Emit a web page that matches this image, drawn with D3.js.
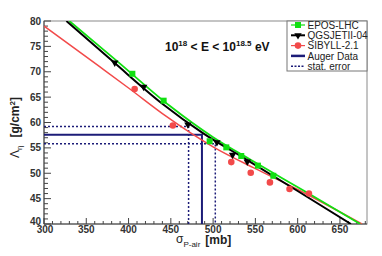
<!DOCTYPE html>
<html>
<head>
<meta charset="utf-8">
<script src="https://cdn.jsdelivr.net/npm/d3@7"></script>
<style>
  body { margin: 0; background: #fff; }
  svg { display: block; font-family: "Liberation Sans", Arial, sans-serif; }
</style>
</head>
<body>
<script>
// Fit curves (sigma p-air [mb], Lambda_eta [g/cm2])
const eposCurve = [[330, 80], [385, 72.3], [448.6, 63.3], [500, 57.1], [549, 52.2], [610, 46.3], [674, 40]];
const qgsCurve = [[326.5, 80], [381.6, 72.0], [440.7, 63.6], [487.9, 57.9], [540.4, 52.6], [600, 46.5], [663, 40]];
const sibCurve = [[300, 79.0], [365.8, 71.0], [400, 66.8], [444.7, 61.2], [500, 55.2], [550, 50.9], [600, 46.8], [676, 40]];

// Simulation points
const eposSigma = [404.5, 441.5, 495.9, 515.6, 533.3, 553, 571.2];
const eposLambda = [69.6, 64.3, 56.3, 55.1, 53.4, 51.5, 49.5];
const qgsSigma = [383.7, 417.9, 470.2, 504.5, 523, 540.4];
const qgsLambda = [71.8, 67.0, 59.6, 56.1, 53.6, 52.3];
const sibSigma = [407.2, 452.4, 521.5, 544.5, 567.2, 590.4, 613.3];
const sibLambda = [66.6, 59.4, 52.2, 50.1, 48.2, 46.9, 46.0];

// Auger measurement and stat. error band
const augerLambda = 57.6, augerSigma = 486.8;
const statLambda = [59.2, 55.8];
const statSigma = [471, 502.6];

const xTicks = [300, 350, 400, 450, 500, 550, 600, 650];
const yTicks = [40, 45, 50, 55, 60, 65, 70, 75, 80];

const width = 382, height = 256;
const svg = d3.select("body").append("svg")
    .attr("width", width)
    .attr("height", height);

const x = d3.scaleLinear().domain([300, 682]).range([44, 367]);
const y = d3.scaleLinear().domain([40, 80]).range([224, 21]);

const navy = "#1c1c78";
const green = "#11e011";
const red = "#f24a4a";

// frame
svg.append("rect")
    .attr("x", x(300)).attr("y", y(80))
    .attr("width", x(682) - x(300)).attr("height", y(40) - y(80))
    .attr("fill", "none").attr("stroke", "#8a8a8a").attr("stroke-width", 1);

// ticks, ROOT style (inside the frame)
const axes = svg.append("g").attr("stroke", "#444").attr("stroke-width", 1);
d3.range(300, 681, 10).forEach(v => {
    const major = v % 50 === 0;
    axes.append("line")
        .attr("x1", x(v)).attr("x2", x(v))
        .attr("y1", y(40)).attr("y2", y(40) - (major ? 6 : 3));
});
d3.range(40, 80.1, 1).forEach(v => {
    const major = v % 5 === 0;
    axes.append("line")
        .attr("x1", x(300)).attr("x2", x(300) + (major ? 7 : 4))
        .attr("y1", y(v)).attr("y2", y(v));
});
axes.append("line").attr("x1", x(300)).attr("x2", x(682)).attr("y1", y(40)).attr("y2", y(40));
axes.append("line").attr("x1", x(300)).attr("x2", x(300)).attr("y1", y(40)).attr("y2", y(80));

svg.append("g").selectAll("text").data(xTicks).join("text")
    .attr("x", d => x(d) + (d === 300 ? 1 : 0)).attr("y", 232.5)
    .attr("text-anchor", "middle")
    .attr("font-size", 10).attr("font-weight", "bold").attr("fill", "#333")
    .text(d => d);

svg.append("g").selectAll("text").data(yTicks).join("text")
    .attr("x", 41).attr("y", d => y(d) + (d === 40 ? 1 : 3.5))
    .attr("text-anchor", "end")
    .attr("font-size", 10).attr("font-weight", "bold").attr("fill", "#333")
    .text(d => d);

// Auger data and stat. error lines
const aug = svg.append("g").attr("fill", "none");
aug.append("path")
    .attr("d", `M${x(300)},${y(augerLambda)}H${x(augerSigma)}V${y(40)}`)
    .attr("stroke", navy).attr("stroke-width", 2);
[[statLambda[0], statSigma[0]], [statLambda[1], statSigma[1]]].forEach(([l, s]) => {
    aug.append("path")
        .attr("d", `M${x(300)},${y(l)}H${x(s)}V${y(40)}`)
        .attr("stroke", navy).attr("stroke-width", 1.5)
        .attr("stroke-dasharray", "2,2");
});

// model curves, clipped to the frame
svg.append("clipPath").attr("id", "frame").append("rect")
    .attr("x", x(300)).attr("y", y(80))
    .attr("width", x(682) - x(300)).attr("height", y(40) - y(80));

const line = d3.line().x(d => x(d[0])).y(d => y(d[1])).curve(d3.curveMonotoneX);
const curves = svg.append("g").attr("clip-path", "url(#frame)").attr("fill", "none");
curves.append("path").attr("d", line(sibCurve)).attr("stroke", red).attr("stroke-width", 1.5);
curves.append("path").attr("d", line(eposCurve)).attr("stroke", green).attr("stroke-width", 1.8);
curves.append("path").attr("d", line(qgsCurve)).attr("stroke", "#000").attr("stroke-width", 2);

// markers
const square = d3.symbol(d3.symbolSquare, 36);
const tri = d3.symbol(d3.symbolTriangle, 24);
const circ = d3.symbol(d3.symbolCircle, 34);

svg.append("g").selectAll("path").data(eposSigma).join("path")
    .attr("d", square)
    .attr("transform", (d, i) => `translate(${x(d)},${y(eposLambda[i])})`)
    .attr("fill", green);
svg.append("g").selectAll("path").data(qgsSigma).join("path")
    .attr("d", tri)
    .attr("transform", (d, i) => `translate(${x(d)},${y(qgsLambda[i])}) rotate(180)`)
    .attr("fill", "#000");
svg.append("g").selectAll("path").data(sibSigma).join("path")
    .attr("d", circ)
    .attr("transform", (d, i) => `translate(${x(d)},${y(sibLambda[i])})`)
    .attr("fill", red);

// energy bin label
const title = svg.append("text")
    .attr("x", 165).attr("y", 51)
    .attr("font-size", 12).attr("font-weight", "bold").attr("fill", "#111");
title.append("tspan").text("10");
title.append("tspan").attr("dy", -5).attr("font-size", 8).text("18");
title.append("tspan").attr("dy", 5).text(" < E < 10");
title.append("tspan").attr("dy", -5).attr("font-size", 8).text("18.5");
title.append("tspan").attr("dy", 5).text(" eV");

// legend
const legend = svg.append("g");
legend.append("rect")
    .attr("x", 287).attr("y", 21).attr("width", 80).attr("height", 50)
    .attr("fill", "#fff").attr("stroke", "#777").attr("stroke-width", 1);
const legendItems = [
    { name: "EPOS-LHC", color: green, sym: square, w: 1.2 },
    { name: "QGSJETII-04", color: "#000", sym: tri, w: 2, rot: true },
    { name: "SIBYLL-2.1", color: red, sym: circ, w: 1.2 },
    { name: "Auger Data", color: navy, w: 2.5 },
    { name: "stat. error", color: navy, w: 1.5, dash: "2,1.5" }
];
const rowY = [25, 35.3, 45.6, 55.9, 66.2];
legendItems.forEach((d, i) => {
    const g = legend.append("g").attr("transform", `translate(0,${rowY[i]})`);
    g.append("line").attr("x1", 291).attr("x2", 305).attr("y1", 0).attr("y2", 0)
        .attr("stroke", d.color).attr("stroke-width", d.w)
        .attr("stroke-dasharray", d.dash || null);
    if (d.sym) {
        g.append("path").attr("d", d.sym)
            .attr("transform", `translate(298,0)${d.rot ? " rotate(180)" : ""}`)
            .attr("fill", d.color);
    }
    g.append("text").attr("x", 307.5).attr("y", 3.6)
        .attr("font-size", 10).attr("fill", "#222")
        .text(d.name);
});

// axis titles
const yt = svg.append("text")
    .attr("transform", "translate(19,158) rotate(-90)")
    .attr("fill", "#222");
yt.append("tspan").attr("font-size", 12).text("\u039B");
yt.append("tspan").attr("font-size", 8).attr("dy", 3).text("\u03B7");
yt.append("tspan").attr("dy", -3).attr("dx", 8).attr("font-size", 12).attr("font-weight", "bold").text("[g/cm");
yt.append("tspan").attr("dy", -4).attr("font-size", 8).attr("font-weight", "bold").text("2");
yt.append("tspan").attr("dy", 4).attr("font-size", 12).attr("font-weight", "bold").text("]");

const xt = svg.append("text")
    .attr("x", 176).attr("y", 243)
    .attr("fill", "#222");
xt.append("tspan").attr("font-size", 12).text("\u03C3");
xt.append("tspan").attr("font-size", 8).attr("dy", 4).text("P-air");
xt.append("tspan").attr("dy", -3).attr("dx", 5).attr("font-size", 12).attr("font-weight", "bold").text("[mb]");
</script>
</body>
</html>
